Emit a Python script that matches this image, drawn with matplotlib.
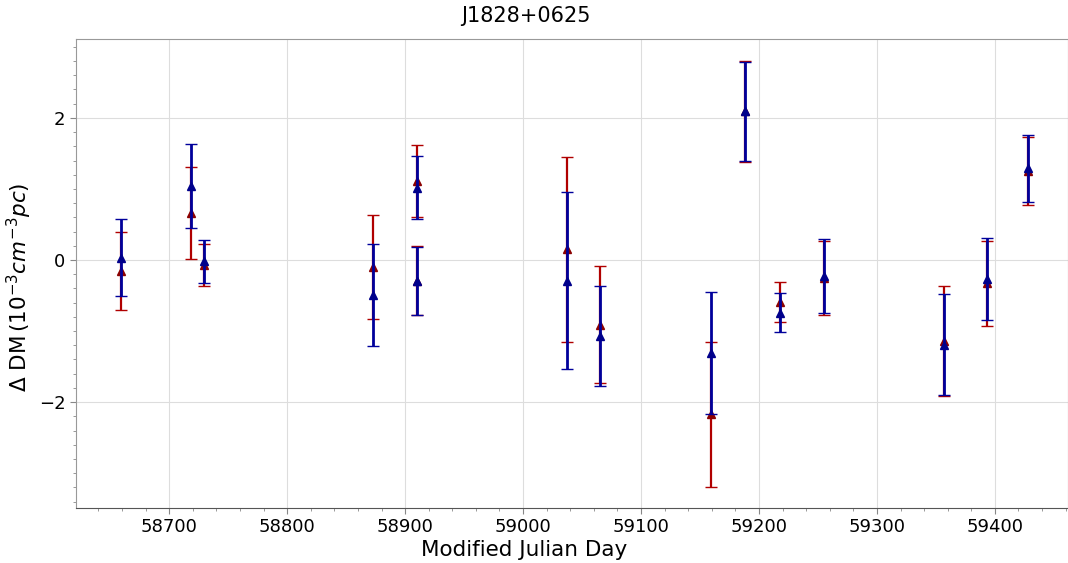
import matplotlib
matplotlib.use("Agg")
import matplotlib.pyplot as plt
from matplotlib.ticker import MultipleLocator

mjd = [58659.3, 58718.4, 58729.4, 58872.6, 58909.9, 58910.5, 59036.9, 59065.5,
       59159.3, 59188.4, 59217.8, 59255.0, 59356.8, 59393.5, 59428.5]
dm_red = [-0.16, 0.66, -0.07, -0.10, 1.11, -0.29, 0.15, -0.91,
          -2.17, 2.09, -0.59, -0.25, -1.14, -0.33, 1.25]
err_red = [0.55, 0.65, 0.30, 0.73, 0.51, 0.49, 1.30, 0.82,
           1.02, 0.71, 0.28, 0.52, 0.77, 0.60, 0.48]
dm_blue = [0.03, 1.04, -0.02, -0.49, 1.02, -0.30, -0.29, -1.07,
           -1.31, 2.09, -0.74, -0.23, -1.19, -0.27, 1.29]
err_blue = [0.54, 0.59, 0.30, 0.72, 0.44, 0.48, 1.25, 0.70,
            0.86, 0.70, 0.28, 0.52, 0.71, 0.58, 0.47]

fig = plt.figure(figsize=(10.68, 5.63), dpi=100)
ax = fig.add_axes([76/1068, 55/563, 992/1068, 469/563])

ax.errorbar(mjd, dm_red, yerr=err_red, fmt='^', color='#8b0000', ecolor='#b00000',
            markersize=6, capsize=4, elinewidth=1.6, capthick=1.0, zorder=3)
ax.errorbar(mjd, dm_blue, yerr=err_blue, fmt='^', color='#00008b', ecolor='#00009b',
            markersize=6, capsize=4, elinewidth=2.0, capthick=1.0, zorder=4)

ax.set_xlim(58621, 59462)
ax.set_ylim(-3.49, 3.11)
ax.xaxis.set_major_locator(MultipleLocator(100))
ax.xaxis.set_minor_locator(MultipleLocator(20))
ax.yaxis.set_major_locator(MultipleLocator(2))
ax.yaxis.set_minor_locator(MultipleLocator(0.2))
ax.grid(True, which='major', color='#dddddd', linewidth=0.8)
ax.set_axisbelow(True)
for s in ax.spines.values():
    s.set_color('#999999')
ax.spines['bottom'].set_color('#555555')
ax.tick_params(which='major', labelsize=13, length=4, color='#888888')
ax.tick_params(which='minor', length=2.5, color='#888888')

ax.set_xlabel('Modified Julian Day', fontsize=15.5)
ax.xaxis.set_label_coords((524 - 76) / 992, -0.068)
ax.set_ylabel(r'$\Delta$ DM$\,(10^{-3}cm^{-3}pc)$', fontsize=15.5)
ax.yaxis.set_label_coords((34 - 76) / 992, (508 - 287) / 469)
fig.suptitle('J1828+0625', fontsize=15, x=0.492, y=0.99)

fig.savefig('out.png', dpi=100)
